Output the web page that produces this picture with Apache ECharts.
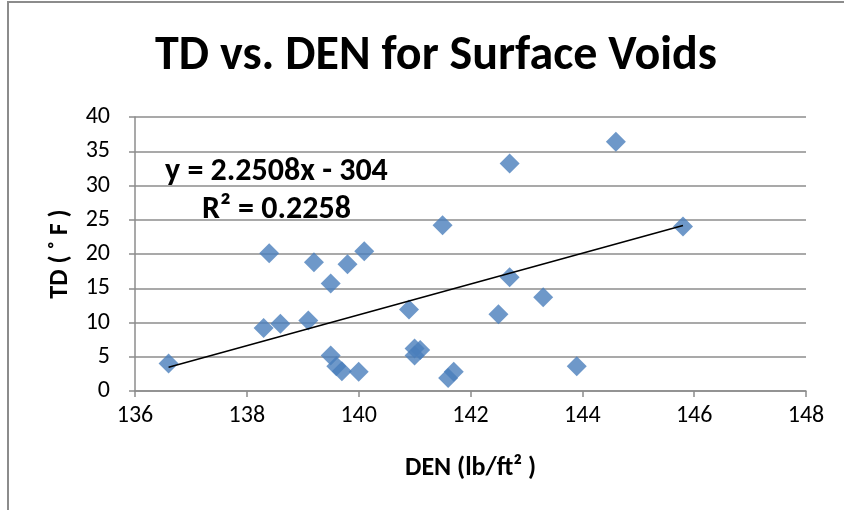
<!DOCTYPE html>
<html>
<head>
<meta charset="utf-8">
<script src="https://cdn.jsdelivr.net/npm/echarts@6/dist/echarts.min.js"></script>
<style>
  html, body { margin: 0; padding: 0; background: #fff; }
  #frame { position: absolute; left: 7px; top: 1px; width: 837px; height: 509px;
           border-left: 2px solid #8c8c8c; border-top: 2px solid #8c8c8c; box-sizing: border-box; }
  #chart { position: absolute; left: 0; top: 0; width: 844px; height: 510px; }
</style>
</head>
<body>
<div id="frame"></div>
<div id="chart"></div>
<script>
// DEN (lb/ft²) vs TD (°F) for surface voids
const den = [136.6, 138.3, 138.4, 138.6, 139.1, 139.2, 139.5, 139.8, 140.1, 139.5, 139.6, 139.7,
  140.0, 140.9, 141.0, 141.1, 141.0, 141.6, 141.7, 141.5, 142.7, 142.7, 142.5, 143.3, 143.9, 144.6, 145.8]
const td = [4.0, 9.2, 20.1, 9.8, 10.3, 18.8, 15.7, 18.5, 20.4, 5.2, 3.6, 2.9,
  2.8, 11.9, 6.2, 6.0, 5.2, 1.9, 2.8, 24.2, 33.2, 16.6, 11.2, 13.7, 3.6, 36.4, 24.0]
const slope = 2.2508
const intercept = -304
const xTicks = [136, 138, 140, 142, 144, 146, 148]
const yTicks = [0, 5, 10, 15, 20, 25, 30, 35, 40]

const font = 'Calibri, Carlito, "Open Sans", sans-serif'
const points = den.map((d, i) => [d, td[i]])
const xMin = Math.min(...den)
const xMax = Math.max(...den)
const trend = [[xMin, slope * xMin + intercept], [xMax, slope * xMax + intercept]]

const myChart = echarts.init(document.getElementById('chart'))
const option = {
  animation: false,
  title: {
    text: 'TD vs. DEN for Surface Voids',
    left: 150,
    top: 28,
    textStyle: { fontFamily: font, fontSize: 48, fontWeight: 'bold', color: '#000' }
  },
  grid: { left: 135, right: 38, top: 117, bottom: 119 },
  xAxis: {
    type: 'value',
    min: xTicks[0],
    max: xTicks[xTicks.length - 1],
    interval: 2,
    name: 'DEN (lb/ft² )',
    nameLocation: 'middle',
    nameGap: 64,
    nameTextStyle: { fontFamily: font, fontSize: 26, fontWeight: 'bold', color: '#000' },
    axisLine: { lineStyle: { color: '#8c8c8c', width: 1.5 } },
    axisTick: { show: true, length: 6, lineStyle: { color: '#8c8c8c', width: 1.5 } },
    axisLabel: { fontFamily: font, fontSize: 24, color: '#000', margin: 13 },
    splitLine: { show: false }
  },
  yAxis: {
    type: 'value',
    min: yTicks[0],
    max: yTicks[yTicks.length - 1],
    interval: 5,
    name: 'TD ( ˚ F )',
    nameLocation: 'middle',
    nameGap: 62,
    nameTextStyle: { fontFamily: font, fontSize: 26, fontWeight: 'bold', color: '#000' },
    axisLine: { show: true, lineStyle: { color: '#8c8c8c', width: 1.5 } },
    axisTick: { show: true, length: 6, lineStyle: { color: '#8c8c8c', width: 1.5 } },
    axisLabel: { fontFamily: font, fontSize: 24, color: '#000', margin: 25 },
    splitLine: { show: true, lineStyle: { color: '#8c8c8c', width: 1.5 } }
  },
  graphic: [
    {
      type: 'text', left: 165, top: 156,
      style: { text: 'y = 2.2508x - 304', fontFamily: font, fontSize: 32, fontWeight: 'bold', fill: '#000' }
    },
    {
      type: 'text', left: 202, top: 194,
      style: { text: 'R² = 0.2258', fontFamily: font, fontSize: 32, fontWeight: 'bold', fill: '#000' }
    }
  ],
  series: [
    {
      type: 'line',
      data: trend,
      symbol: 'none',
      lineStyle: { color: '#000', width: 1.5 },
      z: 3
    },
    {
      type: 'scatter',
      data: points,
      symbol: 'diamond',
      symbolSize: 20,
      itemStyle: { color: '#4a7ebb' },
      z: 2
    }
  ]
}
myChart.setOption(option)
</script>
</body>
</html>
